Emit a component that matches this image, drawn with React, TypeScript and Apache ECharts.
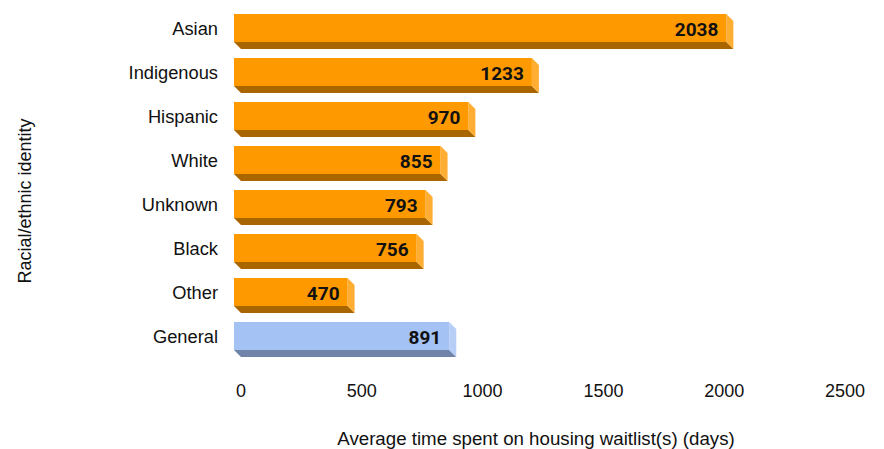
import React, { useEffect, useRef } from "react";
import * as echarts from "echarts";

const categories = ["Asian", "Indigenous", "Hispanic", "White", "Unknown", "Black", "Other", "General"];
const values = [2038, 1233, 970, 855, 793, 756, 470, 891];
const highlight = [false, false, false, false, false, false, false, true];
const xTicks = [0, 500, 1000, 1500, 2000, 2500];

const ORANGE = { front: "#FF9900", bottom: "#A86500", side: "#FFAD33" };
const BLUE = { front: "#A4C2F4", bottom: "#6F84A8", side: "#B7CFF7" };

export default function App() {
  const ref = useRef<HTMLDivElement>(null);
  useEffect(() => {
    const chart = echarts.init(ref.current!, null, { renderer: "svg" });
    const depth = 7;
    const barH = 28;
    const font = "Liberation Sans, Arial";
    chart.setOption({
      animation: false,
      backgroundColor: "#ffffff",
      grid: { left: 234, right: 46, top: 6, bottom: 91, containLabel: false, outerBoundsMode: "none" },
      xAxis: {
        type: "value",
        min: xTicks[0],
        max: xTicks[xTicks.length - 1],
        interval: 500,
        axisLine: { show: false },
        axisTick: { show: false },
        splitLine: { show: false },
        axisLabel: {
          color: "#111",
          fontSize: 18,
          fontFamily: font,
          margin: 24,
          padding: [0, 0, 0, 14],
          formatter: (v: number) => String(v),
        },
        name: "Average time spent on housing waitlist(s) (days)",
        nameLocation: "middle",
        nameGap: 71,
        nameTextStyle: { color: "#111", fontSize: 18.7, fontFamily: font },
      },
      yAxis: {
        type: "category",
        data: categories,
        inverse: true,
        axisLine: { show: false },
        axisTick: { show: false },
        splitLine: { show: false },
        axisLabel: { color: "#111", fontSize: 18.3, fontFamily: font, margin: 16 },
      },
      graphic: [
        {
          type: "text",
          x: 25,
          y: 201,
          rotation: Math.PI / 2,
          style: {
            text: "Racial/ethnic identity",
            fill: "#111",
            fontSize: 18,
            fontFamily: font,
            align: "center",
            verticalAlign: "middle",
          },
        },
      ],
      series: [
        {
          type: "custom",
          data: values.map((v, i) => [v, i]),
          encode: { x: 0, y: 1 },
          renderItem: (params: any, api: any) => {
            const i = api.value(1);
            const v = api.value(0);
            const p0 = api.coord([0, i]);
            const p1 = api.coord([v, i]);
            const x0 = p0[0];
            const x1 = p1[0];
            const yc = p0[1];
            const yt = yc - barH / 2;
            const yb = yc + barH / 2;
            const c = highlight[params.dataIndex] ? BLUE : ORANGE;
            return {
              type: "group",
              children: [
                {
                  type: "polygon",
                  shape: { points: [[x0, yb], [x1, yb], [x1 + depth, yb + depth], [x0 + depth, yb + depth]] },
                  style: { fill: c.bottom },
                },
                {
                  type: "polygon",
                  shape: { points: [[x1, yt], [x1 + depth, yt + depth], [x1 + depth, yb + depth], [x1, yb]] },
                  style: { fill: c.side },
                },
                {
                  type: "rect",
                  shape: { x: x0, y: yt, width: x1 - x0, height: barH },
                  style: { fill: c.front },
                },
                {
                  type: "text",
                  style: {
                    text: String(v),
                    x: x1 - 8,
                    y: yc + 1,
                    align: "right",
                    verticalAlign: "middle",
                    fill: "#111",
                    fontSize: 19,
                    fontWeight: "bold",
                    fontFamily: "Roboto, Liberation Sans",
                  },
                },
              ],
            };
          },
        },
      ],
    });
    return () => chart.dispose();
  }, []);
  return <div ref={ref} style={{ width: 884, height: 449, position: "absolute", left: 0, top: 0 }} />;
}
